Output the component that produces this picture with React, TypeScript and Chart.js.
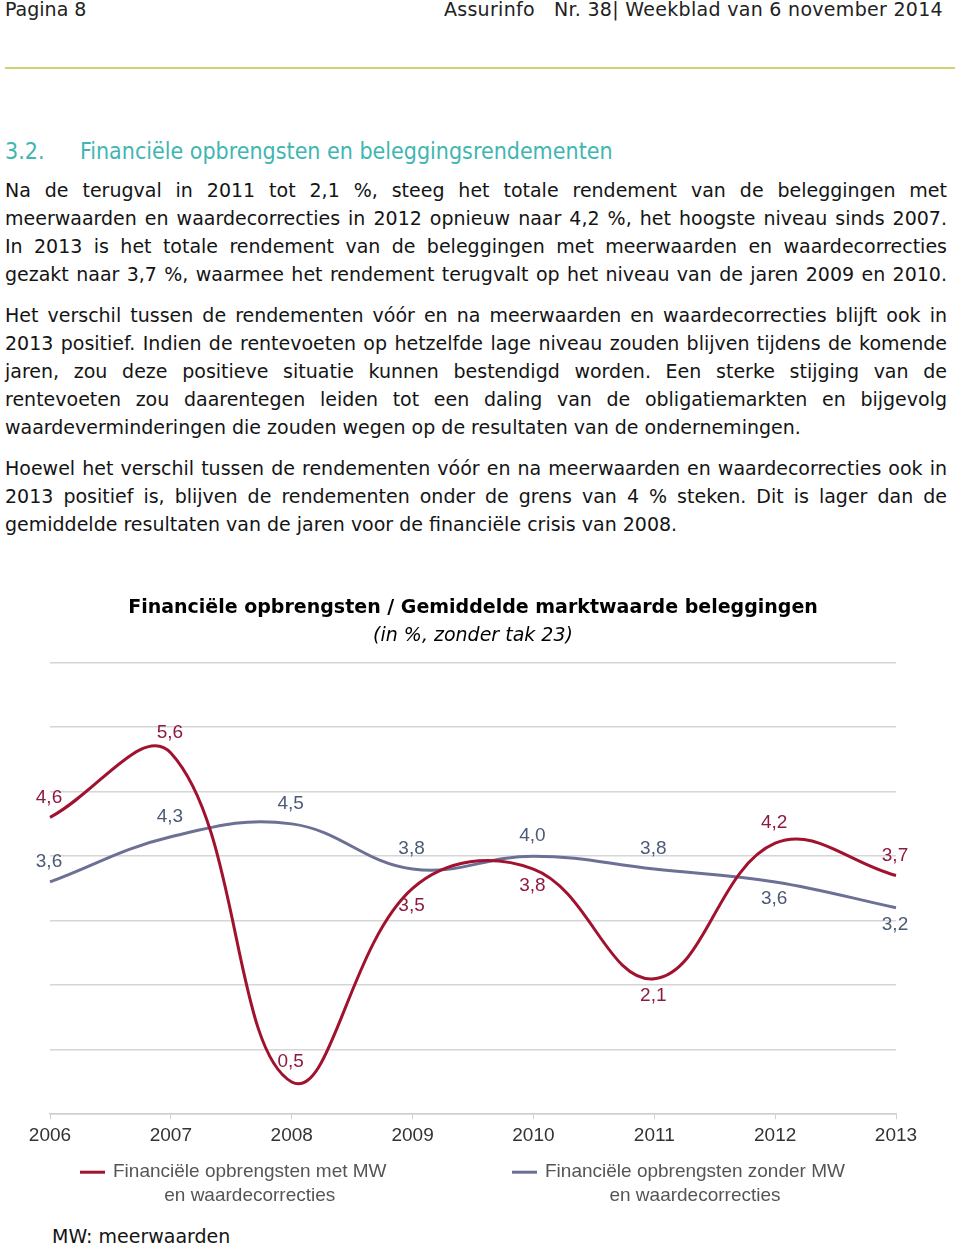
import React, { useEffect, useRef } from "react";
import { Chart, registerables } from "chart.js";

Chart.register(...registerables);

// ---- data ----
const years = ["2006", "2007", "2008", "2009", "2010", "2011", "2012", "2013"];
const metMW = [4.6, 5.6, 0.5, 3.5, 3.8, 2.1, 4.2, 3.7];
const zonderMW = [3.6, 4.3, 4.5, 3.8, 4.0, 3.8, 3.6, 3.2];
const metLabelPos = ["above", "above", "above", "below", "below", "below", "above", "above"];
const zonderLabelPos = ["above", "above", "above", "above", "above", "above", "below", "below"];
const metLegend = ["Financiële opbrengsten met MW", "en waardecorrecties"];
const zonderLegend = ["Financiële opbrengsten zonder MW", "en waardecorrecties"];
const chartTitle = "Financiële opbrengsten / Gemiddelde marktwaarde beleggingen";
const chartSubtitle = "(in %, zonder tak 23)";

const para1 = [
  "Na de terugval in 2011 tot 2,1 %, steeg het totale rendement van de beleggingen met",
  "meerwaarden en waardecorrecties in 2012 opnieuw naar 4,2 %, het hoogste niveau sinds 2007.",
  "In 2013 is het totale rendement van de beleggingen met meerwaarden en waardecorrecties",
  "gezakt naar 3,7 %, waarmee het rendement terugvalt op het niveau van de jaren 2009 en 2010.",
];
const para2 = [
  "Het verschil tussen de rendementen vóór en na meerwaarden en waardecorrecties blijft ook in",
  "2013 positief. Indien de rentevoeten op hetzelfde lage niveau zouden blijven tijdens de komende",
  "jaren, zou deze positieve situatie kunnen bestendigd worden. Een sterke stijging van de",
  "rentevoeten zou daarentegen leiden tot een daling van de obligatiemarkten en bijgevolg",
  "waardeverminderingen die zouden wegen op de resultaten van de ondernemingen.",
];
const para3 = [
  "Hoewel het verschil tussen de rendementen vóór en na meerwaarden en waardecorrecties ook in",
  "2013 positief is, blijven de rendementen onder de grens van 4 % steken. Dit is lager dan de",
  "gemiddelde resultaten van de jaren voor de financiële crisis van 2008.",
];

const RED = "#a1122f";
const BLUE = "#6c7095";
const RED_LBL = "#8e1b3d";
const BLUE_LBL = "#4b5a76";
const LBL_FONT = '19px "Liberation Sans", Arial, sans-serif';
const AXIS_FONT_FAMILY = '"Liberation Sans", Arial, sans-serif';

const fmt = (v: number) => v.toFixed(1).replace(".", ",");

const labelPositions = [metLabelPos, zonderLabelPos];
const labelColors = [RED_LBL, BLUE_LBL];
const legendLines = [metLegend, zonderLegend];

const dataLabelPlugin = {
  id: "dataLabels",
  afterDatasetsDraw(chart: any) {
    const ctx = chart.ctx;
    ctx.save();
    ctx.font = LBL_FONT;
    ctx.textAlign = "center";
    ctx.textBaseline = "middle";
    chart.data.datasets.forEach((ds: any, i: number) => {
      const meta = chart.getDatasetMeta(i);
      ctx.fillStyle = labelColors[i];
      meta.data.forEach((pt: any, j: number) => {
        const above = labelPositions[i][j] === "above";
        const y = pt.y + (above ? -20 : 17);
        ctx.fillText(fmt(ds.data[j]), pt.x - 1, y);
      });
    });
    ctx.restore();
  },
};

const legendPlugin = {
  id: "twoLineLegend",
  afterDraw(chart: any) {
    const { ctx, chartArea } = chart;
    const starts = [80, 512];
    ctx.save();
    ctx.font = '19px "Liberation Sans", Arial, sans-serif';
    ctx.textBaseline = "middle";
    chart.data.datasets.forEach((ds: any, i: number) => {
      const x0 = starts[i];
      const y0 = chartArea.bottom + 58;
      ctx.strokeStyle = ds.borderColor;
      ctx.lineWidth = 3;
      ctx.beginPath();
      ctx.moveTo(x0, y0);
      ctx.lineTo(x0 + 25, y0);
      ctx.stroke();
      const lines = legendLines[i];
      const w = Math.max(...lines.map((l: string) => ctx.measureText(l).width));
      const cx = x0 + 33 + w / 2;
      ctx.fillStyle = "#555555";
      ctx.textAlign = "center";
      lines.forEach((l: string, k: number) => ctx.fillText(l, cx, y0 + k * 24));
    });
    ctx.restore();
  },
};

function LineChart() {
  const ref = useRef<HTMLCanvasElement>(null);
  useEffect(() => {
    if (!ref.current) return;
    const chart = new Chart(ref.current, {
      type: "line",
      data: {
        labels: years,
        datasets: [
          {
            label: metLegend.join(" "),
            data: metMW,
            borderColor: RED,
            borderWidth: 3,
            pointRadius: 0,
            tension: 0.4,
            fill: false,
          },
          {
            label: zonderLegend.join(" "),
            data: zonderMW,
            borderColor: BLUE,
            borderWidth: 3,
            pointRadius: 0,
            tension: 0.4,
            fill: false,
          },
        ],
      },
      options: {
        animation: false,
        responsive: false,
        devicePixelRatio: 1,
        layout: { padding: { left: 50, right: 64, top: 0, bottom: 63 } },
        plugins: {
          legend: { display: false },
          tooltip: { enabled: false },
          title: {
            display: true,
            text: chartTitle,
            color: "#000",
            font: { family: '"DejaVu Sans", Verdana, sans-serif', size: 19, weight: "bold" },
            padding: { top: 12, bottom: 5 },
          },
          subtitle: {
            display: true,
            text: chartSubtitle,
            color: "#000",
            font: { family: '"DejaVu Sans", Verdana, sans-serif', size: 19, style: "italic" },
            padding: { top: 0, bottom: 15 },
          },
        },
        scales: {
          x: {
            offset: false,
            grid: { drawOnChartArea: false, drawTicks: true, tickLength: 5, color: "#cfcfcf" },
            border: { display: true, color: "#cfcfcf", width: 1.5 },
            ticks: {
              autoSkip: false,
              maxRotation: 0,
              padding: 5,
              color: "#333333",
              font: { family: AXIS_FONT_FAMILY, size: 19 },
            },
          },
          y: {
            min: 0,
            max: 7,
            ticks: { display: false, stepSize: 1 },
            grid: { drawTicks: false, color: "#d6d6d6", lineWidth: 1.5 },
            border: { display: false },
          },
        },
      },
      plugins: [dataLabelPlugin, legendPlugin],
    });
    return () => chart.destroy();
  }, []);
  return (
    <canvas
      ref={ref}
      width={960}
      height={630}
      style={{ position: "absolute", left: 0, top: 585, width: 960, height: 630 }}
    />
  );
}

const bodyFont = '"DejaVu Sans", Verdana, sans-serif';

function Para({ lines, top, justifyLast }: { lines: string[]; top: number; justifyLast?: boolean }) {
  return (
    <div style={{ position: "absolute", left: 5, top, width: 942 }}>
      {lines.map((l, i) => {
        const last = i === lines.length - 1 && !justifyLast;
        return (
          <div
            key={i}
            style={{
              whiteSpace: "nowrap",
              height: 28,
              lineHeight: "28px",
              textAlign: last ? "left" : "justify",
              textAlignLast: last ? "left" : "justify",
            } as any}
          >
            {l}
          </div>
        );
      })}
    </div>
  );
}

export default function App() {
  useEffect(() => {
    document.body.style.margin = "0";
  }, []);
  return (
    <div
      style={{
        position: "relative",
        width: 960,
        height: 1246,
        background: "#fff",
        fontFamily: bodyFont,
        fontSize: 19,
        color: "#141414",
        overflow: "hidden",
      }}
    >
      <div style={{ position: "absolute", left: 5, top: -4, lineHeight: "26px", color: "#222" }}>Pagina 8</div>
      <div
        style={{
          position: "absolute",
          right: 17,
          top: -4,
          lineHeight: "26px",
          whiteSpace: "pre",
          color: "#222",
          letterSpacing: 0.3,
        }}
      >
        {"Assurinfo   Nr. 38| Weekblad van 6 november 2014"}
      </div>
      <div style={{ position: "absolute", left: 5, top: 67, width: 950, height: 2, background: "#cfd36c" }} />
      <div
        style={{
          position: "absolute",
          left: 5,
          top: 136,
          lineHeight: "30px",
          fontFamily: '"DejaVu Sans Condensed", "DejaVu Sans", sans-serif',
          fontSize: 23,
          color: "#3fb6b1",
          whiteSpace: "nowrap",
        }}
      >
        3.2.
      </div>
      <div
        style={{
          position: "absolute",
          left: 80,
          top: 136,
          lineHeight: "30px",
          fontFamily: '"DejaVu Sans Condensed", "DejaVu Sans", sans-serif',
          fontSize: 23,
          color: "#3fb6b1",
          whiteSpace: "nowrap",
        }}
      >
        Financiële opbrengsten en beleggingsrendementen
      </div>
      <Para lines={para1} top={176} justifyLast />
      <Para lines={para2} top={301} />
      <Para lines={para3} top={454} />
      <LineChart />
      <div style={{ position: "absolute", left: 52, top: 1222, lineHeight: "28px", whiteSpace: "nowrap" }}>
        MW: meerwaarden
      </div>
    </div>
  );
}
